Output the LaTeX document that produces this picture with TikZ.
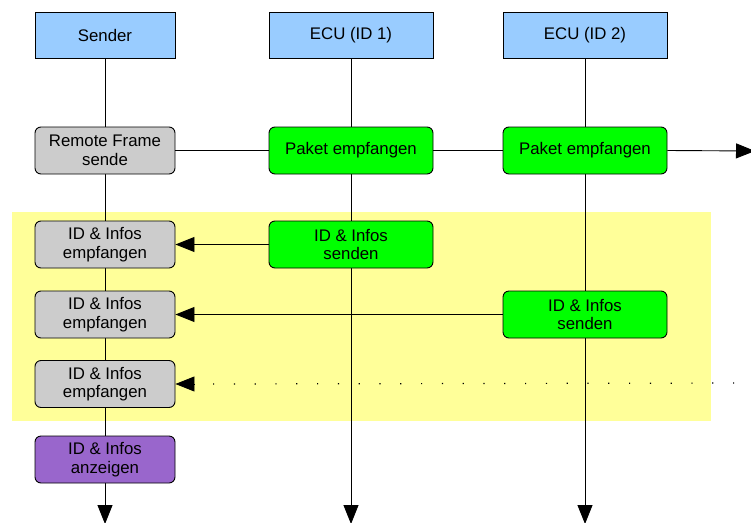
\documentclass[tikz,border=0pt]{standalone}
\usepackage{fontspec}
\setmainfont{Liberation Sans}
\usetikzlibrary{arrows.meta}
\definecolor{headblue}{HTML}{99CCFF}
\definecolor{actgreen}{HTML}{00FF00}
\definecolor{actgray}{HTML}{CCCCCC}
\definecolor{actpurple}{HTML}{9966CC}
\definecolor{zoneyellow}{HTML}{FFFF99}
\begin{document}
\begin{tikzpicture}[x=1pt,y=-1pt,
  every node/.style={font=\fontsize{16.8}{18.5}\selectfont, align=center, inner sep=0pt},
  head/.style={draw, line width=0.9pt, fill=headblue, minimum height=46pt},
  act/.style={draw, line width=0.9pt, rounded corners=6pt, minimum height=47pt},
  narrow/.style={minimum width=140pt},
  wide/.style={minimum width=164pt},
  flow/.style={line width=0.9pt},
  msg/.style={line width=0.9pt, -{Triangle[length=19pt,width=15pt]}},
  dots/.style={line width=1.2pt, dash pattern=on 1.2pt off 19.6pt}]
\useasboundingbox (0,0) rectangle (751,522);
% shaded region for the replies
\fill[zoneyellow] (12,212) rectangle (711,421);

% participants
\node[head, narrow] (sender) at (105,35) {Sender};
\node[head, wide] (ecua) at (351,35) {ECU (ID 1)};
\node[head, wide] (ecub) at (585,35) {ECU (ID 2)};

% lifeline ends
\coordinate (sendend) at (105,524);
\coordinate (ecuaend) at (351,524);
\coordinate (ecubend) at (585,524);
\coordinate (busend) at (755,151);
\coordinate (dotstart) at (755,383);

% lifelines
\draw[msg] (sender.south) -- (sendend);
\draw[msg] (ecua.south) -- (ecuaend);
\draw[msg] (ecub.south) -- (ecubend);

% activities
\node[act, narrow, fill=actgray] (remote) at (105,150.5) {Remote Frame\\sende};
\node[act, wide, fill=actgreen] (paka) at (351,150.5) {Paket empfangen};
\node[act, wide, fill=actgreen] (pakb) at (585,150.5) {Paket empfangen};

\node[act, narrow, fill=actgray] (empa) at (105,244.5) {ID \& Infos\\empfangen};
\node[act, wide, fill=actgreen] (snda) at (351,244.5) {ID \& Infos\\senden};
\node[act, narrow, fill=actgray] (empb) at (105,314.5) {ID \& Infos\\empfangen};
\node[act, wide, fill=actgreen] (sndb) at (585,314.5) {ID \& Infos\\senden};
\node[act, narrow, fill=actgray] (empc) at (105,384) {ID \& Infos\\empfangen};
\node[act, narrow, fill=actpurple] (anz) at (105,459.5) {ID \& Infos\\anzeigen};

% request broadcast
\draw[flow] (remote.east) -- (paka.west);
\draw[flow] (paka.east) -- (pakb.west);
\draw[msg] (pakb.east) -- (busend);

% replies
\draw[msg] (snda.west) -- (empa.east);
\draw[msg] (sndb.west) -- (sndb.west -| ecua.south) -- (empb.east);
\draw[dots] (dotstart) -- ([xshift=30pt]empc.east);
\draw[msg] ([xshift=19pt]empc.east) -- (empc.east);
\end{tikzpicture}
\end{document}
